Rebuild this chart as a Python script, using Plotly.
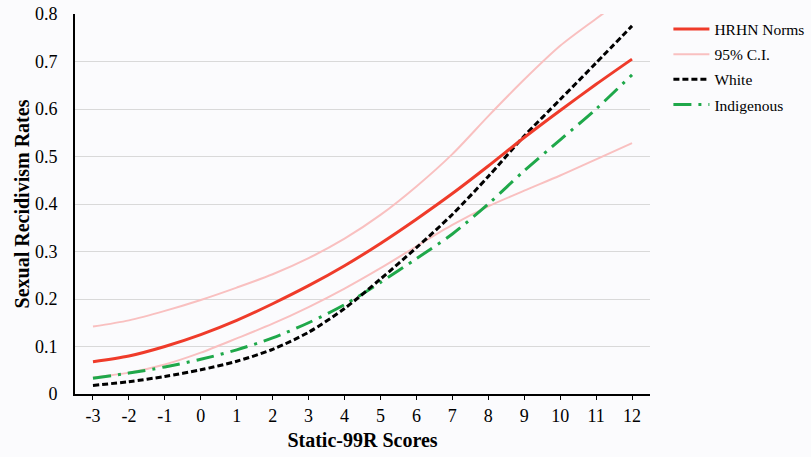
import plotly.graph_objects as go

scores = [-3, -2, -1, 0, 1, 2, 3, 4, 5, 6, 7, 8, 9, 10, 11, 12]
hrhn_norms = [0.068, 0.080, 0.100, 0.125, 0.155, 0.190, 0.228, 0.270, 0.317, 0.368, 0.422, 0.480, 0.540, 0.597, 0.652, 0.705]
ci_upper = [0.142, 0.155, 0.175, 0.198, 0.224, 0.252, 0.286, 0.327, 0.377, 0.437, 0.505, 0.585, 0.662, 0.733, 0.790, 0.845]
ci_lower = [0.035, 0.045, 0.062, 0.087, 0.117, 0.148, 0.183, 0.222, 0.265, 0.311, 0.356, 0.395, 0.428, 0.460, 0.494, 0.528]
white = [0.018, 0.026, 0.037, 0.051, 0.069, 0.094, 0.130, 0.180, 0.242, 0.308, 0.378, 0.458, 0.543, 0.620, 0.697, 0.775]
indigenous = [0.033, 0.044, 0.057, 0.073, 0.093, 0.118, 0.150, 0.188, 0.235, 0.285, 0.337, 0.400, 0.470, 0.535, 0.600, 0.672]

y_ticks = [0, 0.1, 0.2, 0.3, 0.4, 0.5, 0.6, 0.7, 0.8]
y_tick_text = ["0", "0.1", "0.2", "0.3", "0.4", "0.5", "0.6", "0.7", "0.8"]

FONT = "Liberation Serif, Times New Roman, serif"
RED = "#ef3b2a"
PINK = "#f9c0c0"
GREEN = "#1fa84a"

fig = go.Figure()
fig.add_trace(go.Scatter(x=scores, y=ci_upper, mode="lines", name="95% C.I.",
                         line=dict(color=PINK, width=2, shape="spline", smoothing=0.8), legendgroup="ci",
                         showlegend=True, legendrank=2))
fig.add_trace(go.Scatter(x=scores, y=ci_lower, mode="lines", name="95% C.I.",
                         line=dict(color=PINK, width=2, shape="spline", smoothing=0.8), legendgroup="ci",
                         showlegend=False))
fig.add_trace(go.Scatter(x=scores, y=indigenous, mode="lines", name="Indigenous",
                         line=dict(color=GREEN, width=3, dash="18px,7px,3px,7px", shape="spline", smoothing=0.8),
                         legendgroup="ind", legendrank=4))
fig.add_trace(go.Scatter(x=scores, y=white, mode="lines", name="White",
                         line=dict(color="black", width=3, dash="6px,3px", shape="spline", smoothing=0.8),
                         legendgroup="white", legendrank=3))
fig.add_trace(go.Scatter(x=scores, y=hrhn_norms, mode="lines", name="HRHN Norms",
                         line=dict(color=RED, width=3, shape="spline", smoothing=0.8), legendgroup="hrhn",
                         legendrank=1))

fig.update_layout(
    width=811, height=457,
    margin=dict(l=75, r=161, t=14, b=63, autoexpand=False),
    paper_bgcolor="#fbfbfd",
    plot_bgcolor="#fbfbfd",
    font=dict(family=FONT, size=18, color="black"),
    showlegend=True,
    legend=dict(x=1.032, y=1.004, xanchor="left", yanchor="top",
                font=dict(family=FONT, size=15.5, color="black"),
                bgcolor="rgba(0,0,0,0)", traceorder="grouped",
                tracegroupgap=2, itemwidth=36),
)
fig.update_xaxes(
    range=[-3.5, 12.5],
    tickmode="array", tickvals=scores, ticktext=[str(s) for s in scores],
    showgrid=False, zeroline=False,
    showline=True, linecolor="black", linewidth=2,
    ticks="outside", ticklen=4, tickcolor="black", tickwidth=1,
    tickfont=dict(family=FONT, size=18),
    title=dict(text="<b>Static-99R Scores</b>", font=dict(family=FONT, size=20), standoff=8),
)
fig.update_yaxes(
    range=[0, 0.8],
    tickmode="array", tickvals=y_ticks, ticktext=y_tick_text,
    showgrid=True, gridcolor="#d9d9d9", gridwidth=1,
    zeroline=False,
    showline=True, linecolor="black", linewidth=2,
    ticks="", ticklabelstandoff=12,
    tickfont=dict(family=FONT, size=18),
    title=dict(text="<b>Sexual Recidivism Rates</b>", font=dict(family=FONT, size=20), standoff=0),
)

fig.write_html("out.html")
